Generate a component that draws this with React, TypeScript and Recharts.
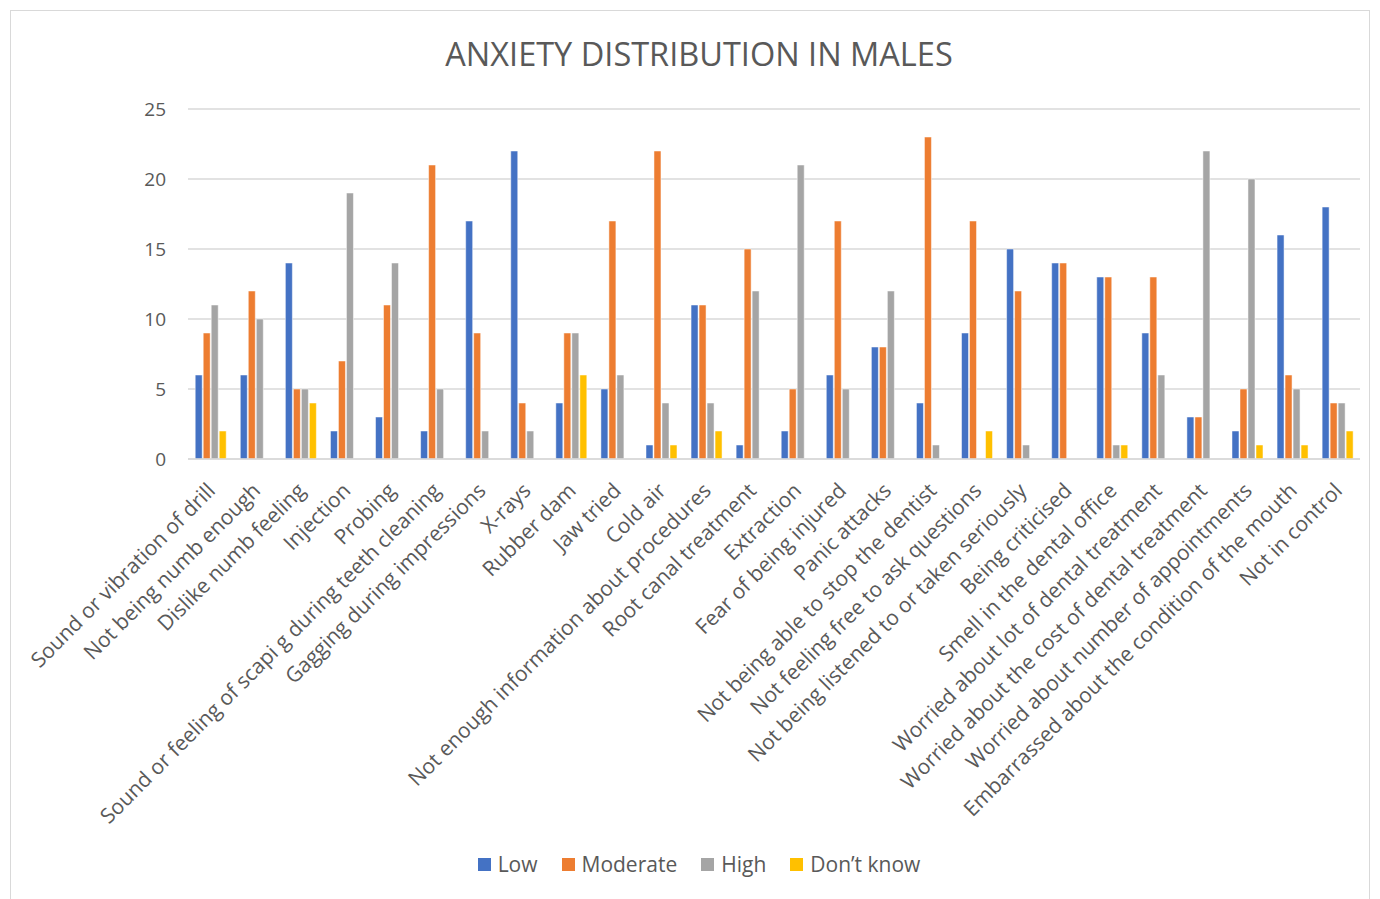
import { BarChart, Bar, XAxis, YAxis, CartesianGrid, Legend } from 'recharts'

const categories = [
  'Sound or vibration of drill',
  'Not being numb enough',
  'Dislike numb feeling',
  'Injection',
  'Probing',
  'Sound or feeling of scapi g during teeth cleaning',
  'Gagging during impressions',
  'X-rays',
  'Rubber dam',
  'Jaw tried',
  'Cold air',
  'Not enough information about procedures',
  'Root canal treatment',
  'Extraction',
  'Fear of being injured',
  'Panic attacks',
  'Not being able to stop the dentist',
  'Not feeling free to ask questions',
  'Not being listened to or taken seriously',
  'Being criticised',
  'Smell in the dental office',
  'Worried about lot of dental treatment',
  'Worried about the cost of dental treatment',
  'Worried about number of appointments',
  'Embarrassed about the condition of the mouth',
  'Not in control',
]

const low = [6, 6, 14, 2, 3, 2, 17, 22, 4, 5, 1, 11, 1, 2, 6, 8, 4, 9, 15, 14, 13, 9, 3, 2, 16, 18]
const moderate = [9, 12, 5, 7, 11, 21, 9, 4, 9, 17, 22, 11, 15, 5, 17, 8, 23, 17, 12, 14, 13, 13, 3, 5, 6, 4]
const high = [11, 10, 5, 19, 14, 5, 2, 2, 9, 6, 4, 4, 12, 21, 5, 12, 1, null, 1, null, 1, 6, 22, 20, 5, 4]
const dontKnow = [2, null, 4, null, null, null, null, null, 6, null, 1, 2, null, null, null, null, null, 2, null, null, 1, null, null, 1, 1, 2]

const yTicks = [0, 5, 10, 15, 20, 25]

const series = [
  { key: 'low', name: 'Low', color: '#4472C4' },
  { key: 'moderate', name: 'Moderate', color: '#ED7D31' },
  { key: 'high', name: 'High', color: '#A5A5A5' },
  { key: 'dontKnow', name: 'Don\u2019t know', color: '#FFC000' },
]

const data = categories.map((name, i) => ({
  name,
  low: low[i],
  moderate: moderate[i],
  high: high[i],
  dontKnow: dontKnow[i],
}))

const font = '"Open Sans", Lato, sans-serif'

const XTick = (props: any) => {
  const { x, y, payload } = props
  const tx = x + 6
  const ty = y + 25
  return (
    <text
      x={tx}
      y={ty}
      textAnchor="end"
      fill="#595959"
      fontSize={21}
      fontFamily={font}
      transform={`rotate(-45 ${tx} ${ty})`}
    >
      {payload.value}
    </text>
  )
}

const LegendContent = () => (
  <div style={{ display: 'flex', justifyContent: 'center', fontFamily: font, fontSize: 21, color: '#595959' }}>
    {series.map((s) => (
      <div key={s.key} style={{ display: 'flex', alignItems: 'center', margin: '0 12px' }}>
        <span style={{ width: 13, height: 13, background: s.color, marginRight: 7, display: 'inline-block' }} />
        <span>{s.name}</span>
      </div>
    ))}
  </div>
)

export default function App() {
  return (
    <div style={{ position: 'absolute', left: 0, top: 0, width: 1380, height: 899, background: '#fff', overflow: 'hidden' }}>
      <div
        style={{
          position: 'absolute',
          left: 10,
          top: 10,
          width: 1360,
          height: 900,
          border: '1px solid #d9d9d9',
          boxSizing: 'border-box',
        }}
      />
      <div
        style={{
          position: 'absolute',
          top: 31,
          left: 0,
          width: 1398,
          textAlign: 'center',
          fontFamily: font,
          fontSize: 32.5,
          color: '#595959',
        }}
      >
        ANXIETY DISTRIBUTION IN MALES
      </div>
      <BarChart
        width={1380}
        height={899}
        data={data}
        margin={{ top: 109, right: 20, left: 0, bottom: 0 }}
        barCategoryGap="16%"
        barGap={1}
      >
        <CartesianGrid vertical={false} stroke="#d9d9d9" strokeWidth={1.5} />
        <XAxis
          dataKey="name"
          interval={0}
          height={440}
          tickLine={false}
          axisLine={{ stroke: '#d9d9d9', strokeWidth: 1.5 }}
          tick={<XTick />}
        />
        <YAxis
          width={188}
          domain={[0, 25]}
          ticks={yTicks}
          tickSize={0}
          tickMargin={22}
          axisLine={false}
          tickLine={false}
          tick={{ fill: '#595959', fontSize: 19, fontFamily: font }}
        />
        <Legend
          layout="horizontal"
          verticalAlign="middle"
          content={<LegendContent />}
          wrapperStyle={{ top: 850, left: 0, width: 1398 }}
        />
        {series.map((s) => (
          <Bar
            key={s.key}
            dataKey={s.key}
            name={s.name}
            fill={s.color}
            stroke="#ffffff"
            strokeWidth={0.5}
            isAnimationActive={false}
          />
        ))}
      </BarChart>
    </div>
  )
}
